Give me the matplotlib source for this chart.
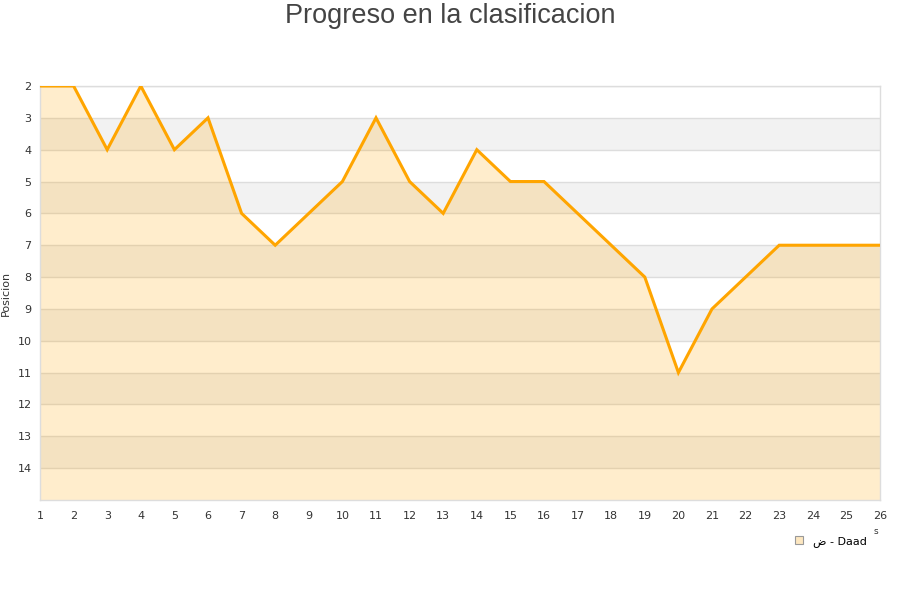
import numpy as np
import matplotlib.pyplot as plt
from matplotlib.patches import Patch

# ─── data ─────────────────────────────────────────────
jornadas  = list(range(1, 27))
posicion  = [2, 2, 4, 2, 4, 3, 6, 7, 6, 5, 3, 5, 6, 4, 5, 5, 6, 7, 8, 11, 9, 8, 7, 7, 7, 7]
y_ticks   = list(range(2, 15))
serie     = 'ض - Daad'
titulo    = 'Progreso en la clasificacion'
y_label   = 'Posicion'

orange = '#ffa500'

fig = plt.figure(figsize=(9, 6), dpi=100)
ax = fig.add_axes([40/900, 1 - 500/600, 840/900, 414/600])

# alternating background bands
for lo in range(2, 15):
    if lo % 2 == 1:
        ax.axhspan(lo, lo + 1, color='#f2f2f2', lw=0, zorder=0)
for yv in y_ticks:
    ax.axhline(yv, color='#dddddd', lw=1, zorder=1)

ax.fill_between(jornadas, posicion, 15, color=orange, alpha=0.2, lw=0, zorder=2)
ax.plot(jornadas, posicion, color=orange, lw=2.2, zorder=3, solid_joinstyle='miter')

ax.set_xlim(1, 26)
ax.set_ylim(15, 2)
ax.set_xticks(jornadas)
ax.set_yticks(y_ticks)
ax.tick_params(length=0, labelsize=8, colors='#333333', pad=6)
ax.tick_params(axis='x', pad=8)
for s in ax.spines.values():
    s.set_color('#dddddd')
    s.set_linewidth(1)

ax.set_ylabel(y_label, fontsize=8, color='#333333')
ax.yaxis.set_label_coords(-29/840, 0.5)
fig.text(0.5, 1 - 3/600, titulo, ha='center', va='top', fontsize=19.5,
         color='#444444', family='Liberation Sans')

# legend
h = Patch(facecolor='#fde7c0', edgecolor='#999999', lw=0.8)
leg = fig.legend([h], [serie], loc='upper left', bbox_to_anchor=(789/900, 1 - 530/600),
                 frameon=False, fontsize=8, handlelength=0.8, handleheight=0.8,
                 handletextpad=0.9, borderpad=0)
fig.text(876/900, 1 - 531/600, 's', fontsize=6.5, color='#333333', ha='center', va='center')

fig.savefig('out.png', dpi=100)
